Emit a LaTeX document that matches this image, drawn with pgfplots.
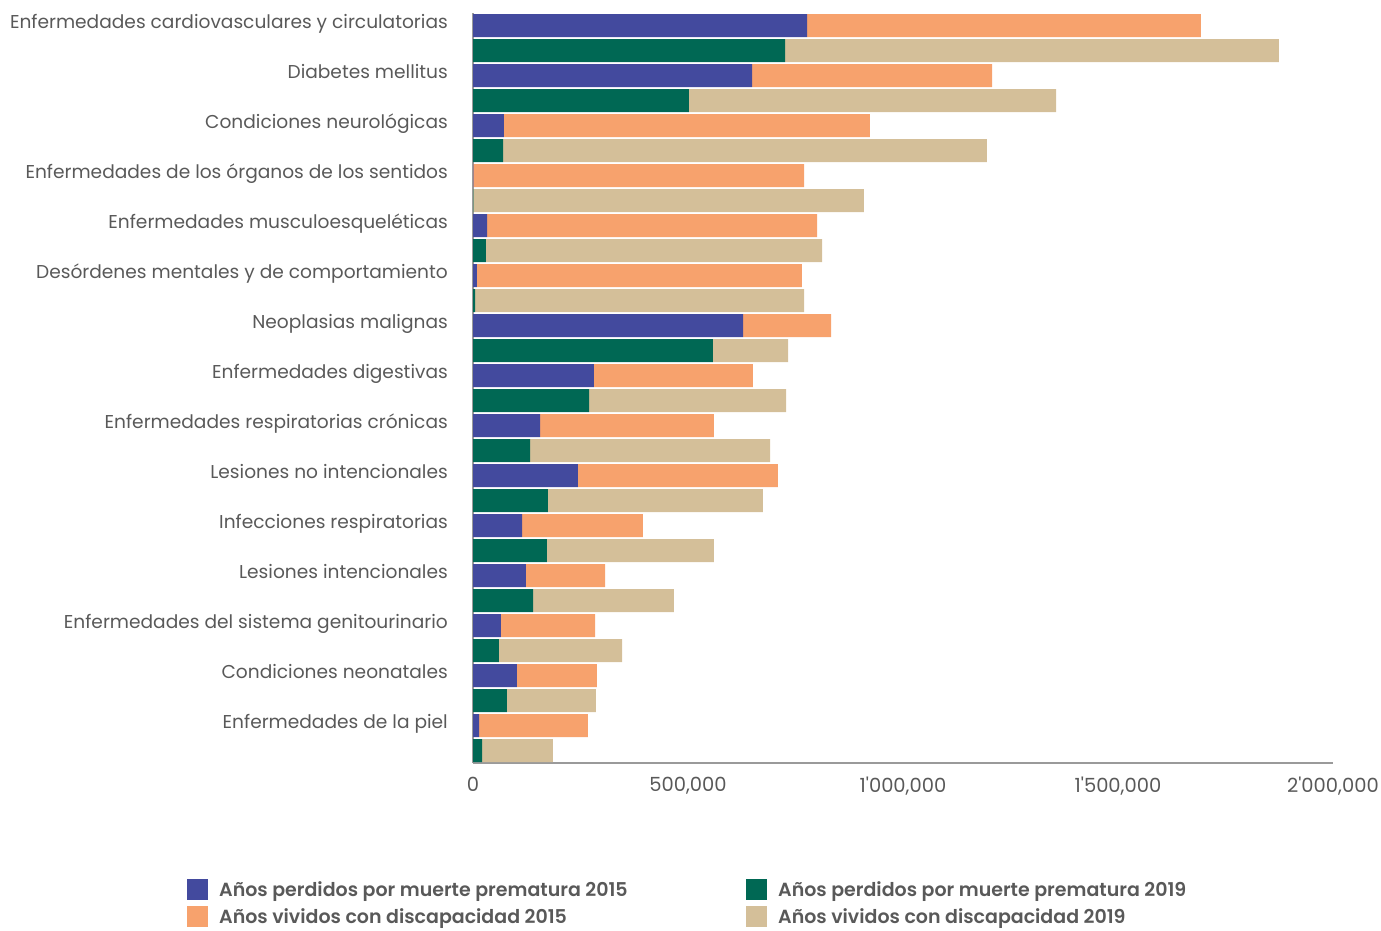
\documentclass[border=0pt]{standalone}
\usepackage{pgfplots}
\pgfplotsset{compat=1.18}
\usepackage{pgfplotstable}
\usepackage{fontspec}
\setmainfont{Poppins}[BoldFont={Poppins SemiBold}]
\definecolor{cblue}{HTML}{434A9E}
\definecolor{cgreen}{HTML}{006854}
\definecolor{corange}{HTML}{F7A26D}
\definecolor{ctan}{HTML}{D4BF99}
\definecolor{labgray}{HTML}{595959}
\definecolor{axgray}{HTML}{9A9A9A}

\pgfplotstableread{
pos pmA pmB yldA yldB
0 777000 0 916000 0
1 0 726000 0 1148000
2 649000 0 558000 0
3 0 502000 0 854000
4 72000 0 851000 0
5 0 70000 0 1125000
6 1000 0 769000 0
7 0 1000 0 908000
8 33000 0 767000 0
9 0 30000 0 782000
10 9000 0 756000 0
11 0 5000 0 765000
12 628000 0 205000 0
13 0 558000 0 175000
14 281000 0 370000 0
15 0 270000 0 458000
16 156000 0 404000 0
17 0 133000 0 558000
18 244000 0 465000 0
19 0 174000 0 500000
20 114000 0 281000 0
21 0 172000 0 388000
22 123000 0 184000 0
23 0 140000 0 327000
24 65000 0 219000 0
25 0 60000 0 287000
26 102000 0 186000 0
27 0 79000 0 207000
28 14000 0 253000 0
29 0 21000 0 165000
}\datatable

\begin{document}
\begin{tikzpicture}
\useasboundingbox (0,0) rectangle (1381pt,930pt);
\begin{axis}[
  at={(473pt,167pt)}, anchor=south west,
  scale only axis, width=860pt, height=750pt,
  xbar stacked, bar width=0.92,
  xmin=0, xmax=2000000, ymin=-0.5, ymax=29.5, y dir=reverse,
  axis x line*=bottom, axis y line*=left,
  axis line style={-, draw=axgray, line width=1.5pt},
  xtick={0,500000,1000000,1500000,2000000},
  xticklabels={0,{500,000},{1\textquotesingle 000,000},{1\textquotesingle 500,000},{2\textquotesingle 000,000}},
  scaled x ticks=false,
  ytick={0,2,...,28},
  yticklabels={Enfermedades cardiovasculares y circulatorias, Diabetes mellitus, Condiciones neurológicas, Enfermedades de los órganos de los sentidos, Enfermedades musculoesqueléticas, Desórdenes mentales y de comportamiento, Neoplasias malignas, Enfermedades digestivas, Enfermedades respiratorias crónicas, Lesiones no intencionales, Infecciones respiratorias, Lesiones intencionales, Enfermedades del sistema genitourinario, Condiciones neonatales, Enfermedades de la piel},
  major tick length=0pt,
  /pgf/number format/assume math mode=true,
  tick label style={text=labgray},
  yticklabel style={font=\fontsize{18.6}{22}\selectfont, anchor=base east, inner sep=0pt, xshift=-25pt, yshift=-2.5pt},
  xticklabel style={font=\fontsize{19.5}{23}\selectfont, anchor=north, inner sep=0pt, yshift=-14pt},
  legend columns=2,
  legend cell align=left,
  legend style={at={(axis description cs:-0.3326,-0.1545)}, anchor=north west,
    draw=none, fill=none, inner sep=0pt,
    font=\fontsize{19}{22}\selectfont\bfseries, text=labgray,
    nodes={inner sep=0pt},
    row sep=6pt,
    /tikz/every odd column/.append style={column sep=11pt}},
  legend image code/.code={\fill[#1] (0pt,-10.5pt) rectangle (21pt,10.5pt);},
]
\addplot[fill=cblue, draw=none] table[x=pmA, y=pos] {\datatable};
\addlegendentry{\makebox[527pt][l]{Años perdidos por muerte prematura 2015}}
\addplot[fill=cgreen, draw=none] table[x=pmB, y=pos] {\datatable};
\addlegendentry{Años perdidos por muerte prematura 2019}
\addplot[fill=corange, draw=none] table[x=yldA, y=pos] {\datatable};
\addlegendentry{\makebox[527pt][l]{Años vividos con discapacidad 2015}}
\addplot[fill=ctan, draw=none] table[x=yldB, y=pos] {\datatable};
\addlegendentry{Años vividos con discapacidad 2019}
\end{axis}
\end{tikzpicture}
\end{document}
